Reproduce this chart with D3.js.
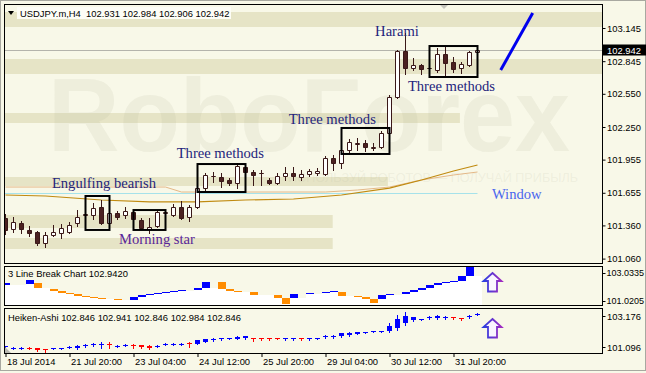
<!DOCTYPE html>
<html>
<head>
<meta charset="utf-8">
<script src="https://cdn.jsdelivr.net/npm/d3@7"></script>
<style>
  body { margin: 0; background: #f8f8e8; }
  svg { display: block; }
  text { font-family: "Liberation Sans", Arial, sans-serif; }
  text.anno { font-family: "Liberation Serif", "Times New Roman", serif; }
</style>
</head>
<body>
<svg id="chart" width="646" height="373"></svg>
<script>
// USDJPY.m, H4 -- one bar every 4 hours, 18 Jul .. 31 Jul 2014
const opens = [101.427,101.328,101.382,101.319,101.300,101.201,101.273,101.291,101.300,101.382,
  101.454,101.454,101.527,101.382,101.472,101.454,101.481,101.409,101.328,101.355,
  101.472,101.454,101.527,101.436,101.527,101.698,101.803,101.798,101.771,101.744,
  101.888,101.843,101.830,101.771,101.744,101.807,101.834,101.798,101.825,101.834,
  101.825,101.970,101.924,102.042,102.100,102.105,102.064,102.069,102.196,102.521,
  102.937,102.783,102.810,102.779,102.765,102.910,102.838,102.783,102.810,102.931];
const highs = [101.463,101.436,101.400,101.355,101.309,101.300,101.364,101.373,101.391,101.499,
  101.481,101.563,101.590,101.481,101.490,101.527,101.490,101.427,101.427,101.499,
  101.490,101.554,101.581,101.545,101.716,101.834,101.843,101.834,101.789,101.924,
  101.897,101.861,101.861,101.789,101.834,101.888,101.888,101.861,101.870,101.879,
  101.988,101.997,102.060,102.141,102.150,102.132,102.105,102.214,102.539,102.946,
  103.100,102.874,102.819,102.792,102.964,102.973,102.883,102.838,102.937,102.984];
const lows = [101.282,101.300,101.291,101.264,101.183,101.165,101.264,101.246,101.291,101.355,
  101.436,101.418,101.373,101.364,101.418,101.427,101.400,101.328,101.291,101.346,
  101.454,101.445,101.418,101.400,101.518,101.680,101.753,101.707,101.725,101.698,
  101.771,101.725,101.725,101.735,101.735,101.771,101.771,101.771,101.807,101.816,
  101.816,101.861,101.879,102.024,102.042,102.033,102.042,102.060,102.187,102.512,
  102.729,102.765,102.729,102.774,102.747,102.711,102.747,102.738,102.801,102.906];
const closes = [101.319,101.391,101.328,101.291,101.201,101.273,101.300,101.337,101.364,101.436,
  101.459,101.518,101.382,101.472,101.436,101.490,101.418,101.337,101.346,101.481,
  101.477,101.527,101.427,101.527,101.698,101.816,101.807,101.762,101.744,101.897,
  101.843,101.816,101.834,101.744,101.807,101.834,101.807,101.825,101.852,101.852,
  101.970,101.924,102.042,102.114,102.105,102.069,102.069,102.196,102.521,102.937,
  102.783,102.810,102.774,102.783,102.910,102.829,102.774,102.819,102.928,102.942];

// moving averages (read at a few bars)
const maSlowBars = [0, 5, 12, 18, 24, 30, 36, 42, 48, 52, 56, 59];
const maSlow = [101.635,101.626,101.590,101.572,101.572,101.590,101.599,101.635,101.698,101.771,101.852,101.906];
const maFastBars = [0, 20, 22, 30, 40, 44, 48, 52, 56, 59];
const maFast = [101.707,101.707,101.662,101.662,101.662,101.680,101.707,101.771,101.816,101.843];
const windowLevel = 101.65;

// support / resistance zones
const bandHigh = [103.290, 102.865, 102.376, 101.798, 101.454, 101.246];
const bandLow = [103.154, 102.729, 102.286, 101.716, 101.337, 101.147];
const bandEnd = [null, null, 56.8, 47.8, 40.9, 40.9];

// pattern boxes
const boxFrom = [10, 16, 24, 42, 53];
const boxTo = [13, 20, 30, 48, 59];
const boxHigh = [101.626, 101.499, 101.915, 102.241, 102.982];
const boxLow = [101.319, 101.319, 101.662, 102.006, 102.702];

// pattern names
const annoText = ['Engulfing bearish', 'Morning star', 'Three methods', 'Three methods', 'Harami', 'Three methods', 'Window'];
const annoBar = [5.8, 14.2, 21.4, 35.4, 46.2, 50.3, 60.8];
const annoPrice = [101.698, 101.192, 101.970, 102.277, 103.073, 102.575, 101.599];

// forecast trend line
const trendBars = [61.9, 65.9];
const trendPrices = [102.765, 103.281];

// 3 Line Break
const lbSlot = [0,3,4,6,7,8,9,10,11,12,14,16,17,18,19,20,21,22,24,25,27,28,29,31,34,35,36,38,40,41,42,44,45,46,47,48,50,51,52,53,54,55,56,57,58];
const lbTop = [102.315,102.530,102.315,101.883,101.739,101.596,101.524,101.380,101.308,101.236,101.164,
  101.308,101.416,101.488,101.560,101.668,101.775,101.847,101.955,102.386,
  102.386,101.883,101.739,101.632,101.452,101.236,
  101.524,101.596,101.668,101.739,
  101.668,101.380,101.308,101.164,
  101.452,101.524,101.668,101.811,101.955,102.135,102.315,102.386,102.458,102.818,103.465];
const lbBottom = [102.171,102.243,101.955,101.739,101.596,101.524,101.380,101.308,101.236,101.164,101.092,
  101.092,101.308,101.416,101.488,101.560,101.668,101.775,101.847,101.955,
  101.883,101.739,101.632,101.452,101.236,100.805,
  101.236,101.524,101.596,101.668,
  101.380,101.308,101.164,100.877,
  101.164,101.452,101.524,101.668,101.811,101.955,102.135,102.315,102.386,102.458,102.818];
const lbDir = [1,1,-1,-1,-1,-1,-1,-1,-1,-1,-1,
  1,1,1,1,1,1,1,1,1,
  -1,-1,-1,-1,-1,-1,
  1,1,1,1,
  -1,-1,-1,-1,
  1,1,1,1,1,1,1,1,1,1,1];

// Heiken-Ashi
const haOpen = [101.096,101.029,101.029,101.062,101.029,100.962,100.995,100.995,101.029,101.029,
  101.130,101.197,101.264,101.297,101.130,101.197,101.230,101.197,101.163,101.130,
  101.230,101.230,101.230,101.364,101.297,101.431,101.566,101.633,101.666,101.666,
  101.700,101.700,101.700,101.700,101.700,101.666,101.666,101.700,101.666,101.666,
  101.767,101.767,101.834,101.901,101.968,102.069,102.102,102.136,102.170,102.371,
  102.706,102.908,102.941,103.075,103.042,103.075,103.109,103.042,103.142,103.243];
const haClose = [101.130,101.062,101.062,101.029,100.895,100.895,101.029,101.029,101.096,101.163,
  101.230,101.297,101.297,101.264,101.163,101.230,101.197,101.096,101.062,101.163,
  101.297,101.297,101.297,101.297,101.566,101.633,101.666,101.700,101.700,101.800,
  101.834,101.633,101.666,101.666,101.666,101.700,101.700,101.666,101.700,101.700,
  101.834,101.834,102.002,102.035,102.102,102.102,102.170,102.170,102.505,102.975,
  103.176,103.109,102.975,103.109,103.176,103.109,103.075,103.008,103.176,103.310];
const haHigh = [101.163,101.096,101.096,101.096,101.062,100.995,101.029,101.062,101.130,101.197,
  101.264,101.331,101.398,101.398,101.197,101.264,101.297,101.230,101.197,101.197,
  101.331,101.331,101.331,101.465,101.599,101.666,101.700,101.733,101.733,101.834,
  101.867,101.733,101.733,101.733,101.733,101.733,101.733,101.733,101.733,101.733,
  101.901,101.901,102.035,102.069,102.136,102.136,102.203,102.203,102.706,103.243,
  103.444,103.142,103.008,103.176,103.243,103.176,103.109,103.042,103.243,103.344];
const haLow = [101.029,100.962,100.962,100.962,100.828,100.760,100.962,100.962,101.029,100.995,
  101.096,101.163,101.029,101.029,101.096,101.130,101.029,101.029,100.995,101.096,
  101.197,101.197,101.197,101.096,101.264,101.398,101.532,101.599,101.633,101.633,
  101.666,101.532,101.566,101.599,101.633,101.599,101.599,101.599,101.599,101.633,
  101.700,101.700,101.800,101.867,101.935,102.035,102.069,102.102,102.102,102.237,
  102.572,102.874,102.908,103.008,102.975,103.008,102.975,102.941,103.075,103.210];

// axes
const priceTicks = [103.145, 102.845, 102.550, 102.250, 101.955, 101.655, 101.360, 101.060];
const lbTicks = [103.0335, 101.0205];
const haTicks = [103.176, 101.096];
const timeTickBars = [0, 8, 16, 24, 32, 40, 48, 56];
const timeLabels = ['18 Jul 2014', '21 Jul 20:00', '23 Jul 04:00', '24 Jul 12:00', '25 Jul 20:00', '29 Jul 04:00', '30 Jul 12:00', '31 Jul 20:00'];
const lastPrice = 102.942;

// ---------------------------------------------------------------
const LEFT = 4, RIGHT = 602;
const MAIN = {top: 4, bottom: 263}, LB = {top: 266, bottom: 305}, HA = {top: 308, bottom: 353};
const BG = '#f8f8e8', BAND = '#e6e4c6', INK = '#3a1818', DARK = '#4b2121';

const svg = d3.select('#chart');
const x = d3.scaleLinear().domain([0, 59]).range([5.5, 477.5]);
const yMain = d3.scaleLinear().domain([101.060, 103.145]).range([258.6, 28]);
const yLB = d3.scaleLinear().domain([101.0205, 103.0335]).range([301, 273]);
const yHA = d3.scaleLinear().domain([101.096, 103.176]).range([347, 316]);
const px = v => Math.round(v) + 0.5;

const defs = svg.append('defs');
[['clipMain', MAIN], ['clipLB', LB], ['clipHA', HA]].forEach(([id, p]) => {
  defs.append('clipPath').attr('id', id).append('rect')
    .attr('x', LEFT + 1).attr('y', p.top + 1)
    .attr('width', RIGHT - LEFT - 1).attr('height', p.bottom - p.top - 1);
});
const grad = defs.append('linearGradient').attr('id', 'arrowGrad').attr('x1', 0).attr('x2', 1);
grad.append('stop').attr('offset', 0).attr('stop-color', '#2a3ee0');
grad.append('stop').attr('offset', 1).attr('stop-color', '#a02cc0');

// background + outer frame
svg.append('rect').attr('width', 646).attr('height', 373).attr('fill', BG);
svg.append('rect').attr('x', 0.5).attr('y', 0.5).attr('width', 645).attr('height', 370)
  .attr('fill', 'none').attr('stroke', '#a8a8a0');

// ================= main panel =================
const main = svg.append('g').attr('clip-path', 'url(#clipMain)');

// zones
main.selectAll('rect.band').data(bandHigh).join('rect')
  .attr('class', 'band')
  .attr('x', LEFT)
  .attr('y', (d) => Math.round(yMain(d)))
  .attr('width', (d, i) => (bandEnd[i] === null ? RIGHT : x(bandEnd[i])) - LEFT)
  .attr('height', (d, i) => Math.round(yMain(bandLow[i])) - Math.round(yMain(d)))
  .attr('fill', BAND);

// watermark
main.append('text').text('RoboForex')
  .attr('x', 48).attr('y', 151)
  .attr('font-size', 104).attr('font-weight', 'bold')
  .attr('textLength', 522).attr('lengthAdjust', 'spacingAndGlyphs')
  .attr('fill', '#b4b49c').attr('fill-opacity', 0.15);
main.append('text').text('ИСПОЛЬЗУЙ РОБОТОВ — ПОЛУЧАЙ ПРИБЫЛЬ')
  .attr('x', 288).attr('y', 182)
  .attr('font-size', 13)
  .attr('textLength', 290).attr('lengthAdjust', 'spacingAndGlyphs')
  .attr('fill', '#b4b49c').attr('fill-opacity', 0.15);

// last price line
main.append('line')
  .attr('x1', LEFT).attr('x2', RIGHT)
  .attr('y1', px(yMain(lastPrice))).attr('y2', px(yMain(lastPrice)))
  .attr('stroke', '#b4b4ac');

// moving averages + window level
const lineMain = d3.line().x(d => x(d[0])).y(d => yMain(d[1]));
main.append('line')
  .attr('x1', LEFT).attr('x2', x(59))
  .attr('y1', px(yMain(windowLevel))).attr('y2', px(yMain(windowLevel)))
  .attr('stroke', '#a6e2ea');
main.append('path')
  .attr('d', lineMain(maFastBars.map((b, i) => [b, maFast[i]])))
  .attr('fill', 'none').attr('stroke', '#e4b888').attr('stroke-width', 1);
main.append('path')
  .attr('d', lineMain(maSlowBars.map((b, i) => [b, maSlow[i]])))
  .attr('fill', 'none').attr('stroke', '#c08a10').attr('stroke-width', 1.2);

// candles
const candles = main.append('g').selectAll('g').data(d3.range(opens.length)).join('g');
candles.append('line')
  .attr('x1', i => x(i)).attr('x2', i => x(i))
  .attr('y1', i => Math.round(yMain(highs[i])))
  .attr('y2', i => Math.round(yMain(lows[i])) + 1)
  .attr('stroke', INK);
candles.append('path')
  .attr('d', i => {
    const t = px(yMain(Math.max(opens[i], closes[i])));
    const b = px(yMain(Math.min(opens[i], closes[i])));
    const l = x(i) - 2, r = x(i) + 2;
    return `M${l},${t}H${r}V${b}H${l}Z`;
  })
  .attr('fill', i => closes[i] >= opens[i] ? '#ffffff' : DARK)
  .attr('stroke', INK);

// pattern boxes
main.selectAll('rect.box').data(boxFrom).join('rect')
  .attr('class', 'box')
  .attr('x', d => x(d)).attr('y', (d, i) => yMain(boxHigh[i]))
  .attr('width', (d, i) => x(boxTo[i]) - x(d))
  .attr('height', (d, i) => yMain(boxLow[i]) - yMain(boxHigh[i]))
  .attr('fill', 'none').attr('stroke', '#000').attr('stroke-width', 2);

// trend line
main.append('path')
  .attr('d', lineMain(trendBars.map((b, i) => [b, trendPrices[i]])))
  .attr('stroke', '#0000ee').attr('stroke-width', 3);

// pattern names
const annoColor = {'Morning star': '#5a2698', 'Window': '#4a66ee'};
main.selectAll('text.anno').data(annoText).join('text')
  .attr('class', 'anno')
  .text(d => d)
  .attr('x', (d, i) => x(annoBar[i]))
  .attr('y', (d, i) => yMain(annoPrice[i]))
  .attr('font-size', 14.6)
  .attr('fill', d => annoColor[d] || '#24247c');

// header
svg.append('rect').attr('x', 17).attr('y', 7).attr('width', 214).attr('height', 12).attr('fill', '#fdfdf6');
svg.append('path').attr('d', 'M8,11H14L11,15Z').attr('fill', '#000');
svg.append('text').text('USDJPY.m,H4  102.931 102.984 102.906 102.942')
  .attr('x', 20).attr('y', 16.5).attr('font-size', 9.4).style('white-space', 'pre');
svg.append('path').attr('d', 'M440,5H448L444,9Z').attr('fill', '#c4c4bc');

// ================= 3 Line Break =================
const lb = svg.append('g').attr('clip-path', 'url(#clipLB)');
const lbLevel = [];
d3.range(60).forEach(s => {
  const k = lbSlot.indexOf(s);
  lbLevel.push(k >= 0 ? lbBottom[k] : (s > 0 ? lbLevel[s - 1] : lbBottom[0]));
});
lb.selectAll('rect.fill').data(lbLevel).join('rect')
  .attr('class', 'fill')
  .attr('x', (d, i) => x(i) - 4).attr('width', 8)
  .attr('y', d => Math.round(yLB(d)))
  .attr('height', d => LB.bottom - Math.round(yLB(d)))
  .attr('fill', '#ffffff').attr('shape-rendering', 'crispEdges');
lb.selectAll('rect.brick').data(lbSlot).join('rect')
  .attr('class', 'brick')
  .attr('x', d => x(d) - 4).attr('width', 8)
  .attr('y', (d, i) => Math.round(yLB(lbTop[i])))
  .attr('height', (d, i) => Math.max(1, Math.round(yLB(lbBottom[i])) - Math.round(yLB(lbTop[i]))))
  .attr('fill', (d, i) => lbDir[i] > 0 ? '#0000ff' : '#ff8c00')
  .attr('shape-rendering', 'crispEdges');
svg.append('text').text('3 Line Break Chart 102.9420')
  .attr('x', 8).attr('y', 277).attr('font-size', 9.4);

// ================= Heiken-Ashi =================
const ha = svg.append('g').attr('clip-path', 'url(#clipHA)');
const haBars = ha.selectAll('g').data(d3.range(haOpen.length)).join('g')
  .attr('fill', i => haClose[i] >= haOpen[i] ? '#0000ff' : '#ff0000')
  .attr('stroke', i => haClose[i] >= haOpen[i] ? '#0000ff' : '#ff0000');
haBars.append('line')
  .attr('x1', i => x(i)).attr('x2', i => x(i))
  .attr('y1', i => Math.round(yHA(haHigh[i])))
  .attr('y2', i => Math.round(yHA(haLow[i])) + 1);
haBars.append('rect')
  .attr('x', i => x(i) - 2.5).attr('width', 5)
  .attr('y', i => Math.round(yHA(Math.max(haOpen[i], haClose[i]))))
  .attr('height', i => Math.max(1, Math.round(yHA(Math.min(haOpen[i], haClose[i]))) - Math.round(yHA(Math.max(haOpen[i], haClose[i])))))
  .attr('stroke', 'none').attr('shape-rendering', 'crispEdges');
svg.append('text').text('Heiken-Ashi 102.846 102.941 102.846 102.984 102.846')
  .attr('x', 8).attr('y', 321).attr('font-size', 9.4);
svg.append('path').attr('d', 'M5,347V353H11Z').attr('fill', '#b8b8b0');

// up arrows in the indicator panels
[[LB, 273], [HA, 319]].forEach(([p, top]) => {
  const cx = 492.5;
  svg.append('path')
    .attr('d', `M${cx},${top}L${cx + 9},${top + 8}H${cx + 4.5}V${top + 18.5}H${cx - 4.5}V${top + 8}H${cx - 9}Z`)
    .attr('fill', '#faf6ff').attr('stroke', 'url(#arrowGrad)').attr('stroke-width', 1.8)
    .attr('stroke-linejoin', 'miter');
});

// ================= frames =================
[MAIN, LB, HA].forEach(p => {
  svg.append('rect')
    .attr('x', LEFT + 0.5).attr('y', p.top + 0.5)
    .attr('width', RIGHT - LEFT).attr('height', p.bottom - p.top)
    .attr('fill', 'none').attr('stroke', '#000');
});

// ================= axes =================
function styleAxis(g) {
  g.select('.domain').remove();
  g.selectAll('text').attr('font-size', 9.4).attr('fill', '#000');
  g.selectAll('line').attr('stroke', '#000');
}
svg.append('g').attr('transform', `translate(${RIGHT + 0.5},0)`)
  .call(d3.axisRight(yMain).tickValues(priceTicks).tickFormat(d3.format('.3f')).tickSize(3).tickPadding(1.5))
  .call(styleAxis);
svg.append('g').attr('transform', `translate(${RIGHT + 0.5},0)`)
  .call(d3.axisRight(yLB).tickValues(lbTicks).tickFormat(d3.format('.4f')).tickSize(3).tickPadding(1))
  .call(styleAxis)
  .call(g => g.selectAll('text').attr('font-size', 9));
svg.append('g').attr('transform', `translate(${RIGHT + 0.5},0)`)
  .call(d3.axisRight(yHA).tickValues(haTicks).tickFormat(d3.format('.3f')).tickSize(3).tickPadding(1.5))
  .call(styleAxis);

// last price marker on the axis
const lpY = yMain(lastPrice);
svg.append('rect').attr('x', RIGHT + 1).attr('y', Math.round(lpY) - 5.5)
  .attr('width', 43).attr('height', 11).attr('fill', '#000');
svg.append('text').text(d3.format('.3f')(lastPrice))
  .attr('x', RIGHT + 5).attr('y', Math.round(lpY) + 3.5)
  .attr('font-size', 9.4).attr('fill', '#fff');

// time axis
svg.append('g').attr('transform', `translate(0,${HA.bottom})`)
  .call(d3.axisBottom(x).tickValues(timeTickBars).tickFormat((d, i) => timeLabels[i]).tickSize(4).tickSizeOuter(0))
  .call(styleAxis)
  .call(g => g.selectAll('text').attr('text-anchor', 'start').attr('dy', 0).attr('y', 12).attr('x', 1));
</script>
</body>
</html>
